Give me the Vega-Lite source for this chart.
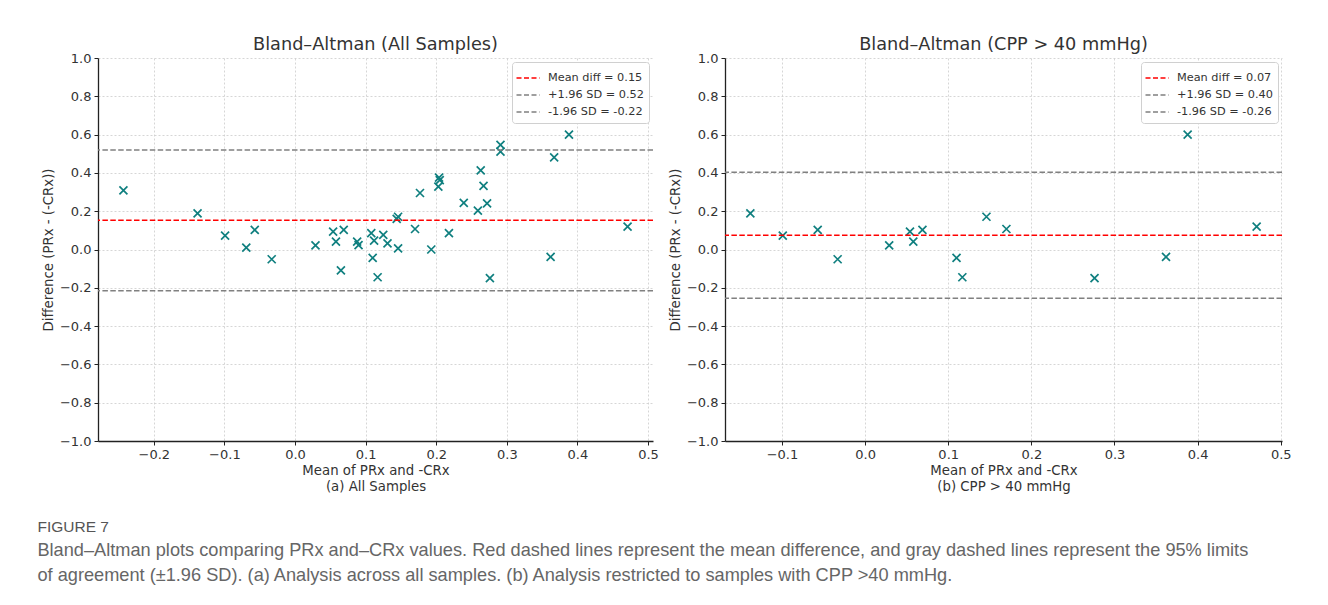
{
  "$schema": "https://vega.github.io/schema/vega-lite/v6.json",
  "padding": {"left": 37, "top": 36, "right": 5, "bottom": 5},
  "datasets": {
    "all": [
      {"m": -0.243, "d": 0.309}, {"m": -0.138, "d": 0.189}, {"m": -0.099, "d": 0.072}, {"m": -0.069, "d": 0.010},
      {"m": -0.057, "d": 0.102}, {"m": -0.033, "d": -0.051}, {"m": 0.029, "d": 0.022}, {"m": 0.054, "d": 0.093},
      {"m": 0.058, "d": 0.041}, {"m": 0.065, "d": -0.109}, {"m": 0.069, "d": 0.102}, {"m": 0.088, "d": 0.041},
      {"m": 0.090, "d": 0.023}, {"m": 0.108, "d": 0.086}, {"m": 0.110, "d": -0.044}, {"m": 0.112, "d": 0.046},
      {"m": 0.117, "d": -0.145}, {"m": 0.125, "d": 0.076}, {"m": 0.131, "d": 0.032}, {"m": 0.144, "d": 0.160},
      {"m": 0.146, "d": 0.171}, {"m": 0.146, "d": 0.006}, {"m": 0.170, "d": 0.107}, {"m": 0.177, "d": 0.295},
      {"m": 0.193, "d": 0.000}, {"m": 0.203, "d": 0.328}, {"m": 0.205, "d": 0.362}, {"m": 0.204, "d": 0.375},
      {"m": 0.218, "d": 0.086}, {"m": 0.239, "d": 0.243}, {"m": 0.259, "d": 0.203}, {"m": 0.263, "d": 0.413},
      {"m": 0.267, "d": 0.332}, {"m": 0.272, "d": 0.241}, {"m": 0.276, "d": -0.150}, {"m": 0.291, "d": 0.546},
      {"m": 0.291, "d": 0.511}, {"m": 0.362, "d": -0.039}, {"m": 0.367, "d": 0.481}, {"m": 0.388, "d": 0.600},
      {"m": 0.471, "d": 0.119}
    ],
    "cpp": [
      {"m": -0.138, "d": 0.189}, {"m": -0.099, "d": 0.072}, {"m": -0.057, "d": 0.102}, {"m": -0.033, "d": -0.051},
      {"m": 0.029, "d": 0.022}, {"m": 0.054, "d": 0.093}, {"m": 0.058, "d": 0.041}, {"m": 0.069, "d": 0.102},
      {"m": 0.110, "d": -0.044}, {"m": 0.117, "d": -0.145}, {"m": 0.146, "d": 0.171}, {"m": 0.170, "d": 0.107},
      {"m": 0.276, "d": -0.150}, {"m": 0.362, "d": -0.039}, {"m": 0.388, "d": 0.600}, {"m": 0.471, "d": 0.119}
    ],
    "linesA": [
      {"y": 0.153, "label": "Mean diff = 0.15"},
      {"y": 0.520, "label": "+1.96 SD = 0.52"},
      {"y": -0.215, "label": "-1.96 SD = -0.22"}
    ],
    "linesB": [
      {"y": 0.074, "label": "Mean diff = 0.07"},
      {"y": 0.403, "label": "+1.96 SD = 0.40"},
      {"y": -0.255, "label": "-1.96 SD = -0.26"}
    ]
  },
  "title": {
    "text": "FIGURE 7",
    "subtitle": [
      "Bland–Altman plots comparing PRx and–CRx values. Red dashed lines represent the mean difference, and gray dashed lines represent the 95% limits",
      "of agreement (±1.96 SD). (a) Analysis across all samples. (b) Analysis restricted to samples with CPP >40 mmHg."
    ],
    "orient": "bottom",
    "anchor": "start",
    "font": "Liberation Sans",
    "fontSize": 15.5,
    "fontWeight": "normal",
    "color": "#555555",
    "subtitleFont": "Liberation Sans",
    "subtitleFontSize": 18.2,
    "subtitleColor": "#666666",
    "subtitleLineHeight": 25,
    "subtitlePadding": 6,
    "offset": 28,
    "dx": -4
  },
  "hconcat": [
    {
      "width": 555,
      "height": 383,
      "title": "Bland–Altman (All Samples)",
      "layer": [
        {
          "data": {"name": "all"},
          "mark": {"type": "point", "shape": "M-1,-1L1,1M1,-1L-1,1", "filled": false, "stroke": "#0f7f7f", "strokeWidth": 1.7, "size": 64, "opacity": 1},
          "encoding": {
            "x": {"field": "m", "type": "quantitative", "scale": {"domain": [-0.279, 0.507], "nice": false, "zero": false},
                  "axis": {"values": [-0.2, -0.1, 0, 0.1, 0.2, 0.3, 0.4, 0.5], "format": ".1f", "labelOverlap": false, "title": ["Mean of PRx and -CRx", "(a) All Samples"]}},
            "y": {"field": "d", "type": "quantitative", "scale": {"domain": [-1, 1], "nice": false},
                  "axis": {"tickCount": 10, "format": ".1f", "labelOverlap": false, "labelSeparation": 0, "labelFlush": false, "title": "Difference (PRx - (-CRx))"}}
          }
        },
        {
          "data": {"name": "linesA"},
          "mark": {"type": "rule", "strokeDash": [5.5, 2.4], "strokeWidth": 1.5},
          "encoding": {
            "y": {"field": "y", "type": "quantitative"},
            "color": {"field": "label", "type": "nominal",
                      "scale": {"domain": ["Mean diff = 0.15", "+1.96 SD = 0.52", "-1.96 SD = -0.22"], "range": ["#ff0000", "#808080", "#808080"]},
                      "legend": {"title": null}}
          }
        }
      ]
    },
    {
      "width": 557,
      "height": 383,
      "title": "Bland–Altman (CPP > 40 mmHg)",
      "layer": [
        {
          "data": {"name": "cpp"},
          "mark": {"type": "point", "shape": "M-1,-1L1,1M1,-1L-1,1", "filled": false, "stroke": "#0f7f7f", "strokeWidth": 1.7, "size": 64, "opacity": 1},
          "encoding": {
            "x": {"field": "m", "type": "quantitative", "scale": {"domain": [-0.1685, 0.5015], "nice": false, "zero": false},
                  "axis": {"values": [-0.1, 0, 0.1, 0.2, 0.3, 0.4, 0.5], "format": ".1f", "labelOverlap": false, "title": ["Mean of PRx and -CRx", "(b) CPP > 40 mmHg"]}},
            "y": {"field": "d", "type": "quantitative", "scale": {"domain": [-1, 1], "nice": false},
                  "axis": {"tickCount": 10, "format": ".1f", "labelOverlap": false, "labelSeparation": 0, "labelFlush": false, "title": "Difference (PRx - (-CRx))"}}
          }
        },
        {
          "data": {"name": "linesB"},
          "mark": {"type": "rule", "strokeDash": [5.5, 2.4], "strokeWidth": 1.5},
          "encoding": {
            "y": {"field": "y", "type": "quantitative"},
            "color": {"field": "label", "type": "nominal",
                      "scale": {"domain": ["Mean diff = 0.07", "+1.96 SD = 0.40", "-1.96 SD = -0.26"], "range": ["#ff0000", "#808080", "#808080"]},
                      "legend": {"title": null}}
          }
        }
      ]
    }
  ],
  "spacing": 9,
  "resolve": {"scale": {"color": "independent", "x": "independent", "y": "independent"}, "legend": {"color": "independent"}},
  "config": {
    "font": "DejaVu Sans",
    "view": {"stroke": null},
    "axis": {
      "labelFont": "DejaVu Sans", "labelFontSize": 13, "labelColor": "#333333", "labelOverlap": false,
      "titleFont": "DejaVu Sans", "titleFontSize": 13.3, "titleFontWeight": "normal", "titleColor": "#333333",
      "titleLineHeight": 16,
      "domainColor": "#222222", "domainWidth": 1.3, "tickColor": "#222222", "tickSize": 4, "tickWidth": 1, "labelPadding": 3,
      "grid": true, "gridColor": "#cccccc", "gridDash": [2, 2], "gridWidth": 0.8
    },
    "axisY": {"titlePadding": 4},
    "axisX": {"titlePadding": 2},
    "title": {"fontSize": 17.7, "fontWeight": "normal", "color": "#333333", "font": "DejaVu Sans", "offset": -2},
    "legend": {
      "orient": "top-right", "offset": 4, "padding": 5, "fillColor": "white", "strokeColor": "#d0d0d0", "cornerRadius": 3,
      "labelFont": "DejaVu Sans", "labelFontSize": 11.3, "labelColor": "#333333", "labelOffset": 9,
      "symbolType": "M-1.15,0L1.15,0", "symbolDash": [5, 2.5], "symbolStrokeWidth": 1.5, "symbolSize": 400, "rowPadding": 0
    }
  }
}
